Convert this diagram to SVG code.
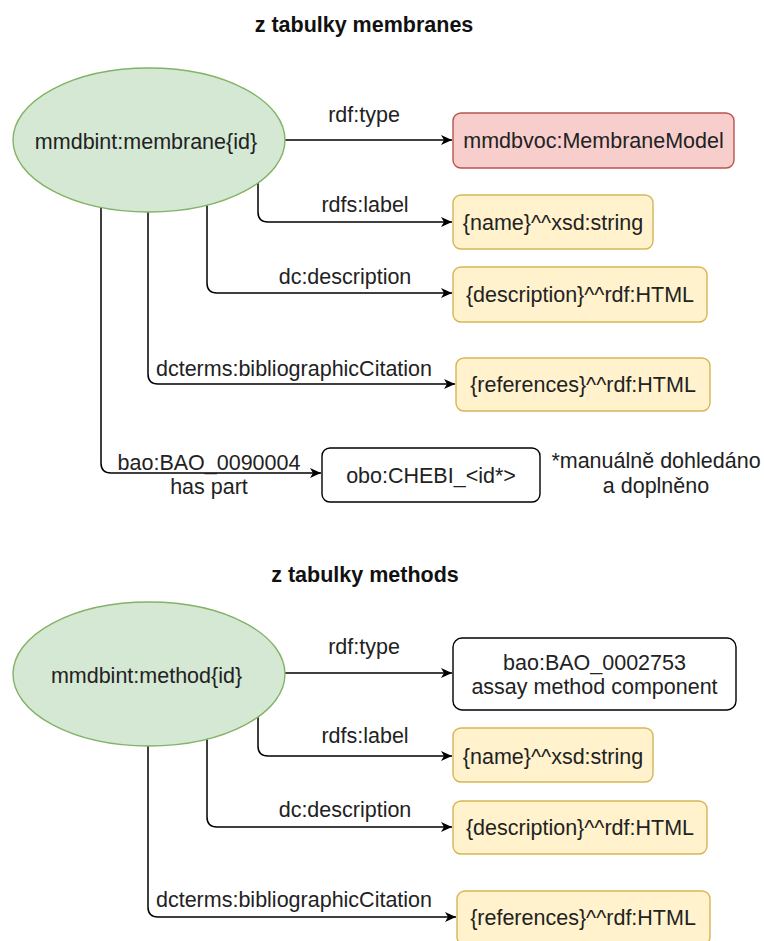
<svg xmlns="http://www.w3.org/2000/svg" width="764" height="941" viewBox="0 0 764 941">
  <style>
    text { font-family: "Liberation Sans", Arial, sans-serif; font-size: 21.5px; fill: #222; }
    .title { font-weight: bold; fill: #111; }
    .mid { text-anchor: middle; }
    .ent { fill: #d5e8d4; stroke: #82b366; stroke-width: 1.4; }
    .cls { fill: #f8cecc; stroke: #b85450; stroke-width: 1.4; }
    .lit { fill: #fff2cc; stroke: #d6b656; stroke-width: 1.4; }
    .res { fill: #ffffff; stroke: #000000; stroke-width: 1.4; }
    .edge { fill: none; stroke: #000; stroke-width: 1.5; marker-end: url(#arrow); }
  </style>
  <defs>
    <marker id="arrow" markerUnits="userSpaceOnUse" markerWidth="12" markerHeight="10" refX="11" refY="5" orient="auto">
      <path d="M0,0 L11,5 L0,10 L3,5 Z" fill="#000"/>
    </marker>
  </defs>

  <rect width="764" height="941" fill="#ffffff"/>

  <!-- section titles -->
  <text class="title mid" x="364" y="32">z tabulky membranes</text>
  <text class="title mid" x="365" y="582">z tabulky methods</text>

  <!-- connectors -->
  <g id="connectors">
    <!-- membrane -->
    <path class="edge" d="M285,140 H452"/>
    <path class="edge" d="M258,183 V212 Q258,222 268,222 H452"/>
    <path class="edge" d="M207,205 V283 Q207,293 217,293 H452"/>
    <path class="edge" d="M148,212 V374 Q148,384 158,384 H455"/>
    <path class="edge" d="M101,207 V463 Q101,473 111,473 H321"/>
    <!-- method -->
    <path class="edge" d="M285,673 H452"/>
    <path class="edge" d="M258,717 V746 Q258,756 268,756 H452"/>
    <path class="edge" d="M207,738 V817 Q207,827 217,827 H452"/>
    <path class="edge" d="M148,746 V907 Q148,917 158,917 H456"/>

    <!-- edge labels -->
    <text class="mid" x="364" y="122">rdf:type</text>
    <text class="mid" x="365" y="212">rdfs:label</text>
    <text class="mid" x="345" y="284">dc:description</text>
    <text class="mid" x="294" y="376">dcterms:bibliographicCitation</text>
    <text class="mid" x="209" y="470">bao:BAO_0090004</text>
    <text class="mid" x="209" y="494">has part</text>

    <text class="mid" x="364" y="654">rdf:type</text>
    <text class="mid" x="365" y="743">rdfs:label</text>
    <text class="mid" x="345" y="817">dc:description</text>
    <text class="mid" x="294" y="907">dcterms:bibliographicCitation</text>
  </g>

  <!-- membrane nodes -->
  <g id="membrane">
    <ellipse class="ent" cx="149" cy="140" rx="136" ry="72"/>
    <text class="mid" x="146" y="149">mmdbint:membrane{id}</text>
  </g>
  <g id="membrane-type">
    <rect class="cls" x="453" y="113" width="281" height="55" rx="8"/>
    <text class="mid" x="593.5" y="148">mmdbvoc:MembraneModel</text>
  </g>
  <g id="membrane-name">
    <rect class="lit" x="453" y="195" width="200" height="54" rx="8"/>
    <text class="mid" x="553" y="230">{name}^^xsd:string</text>
  </g>
  <g id="membrane-description">
    <rect class="lit" x="453" y="267" width="254" height="55" rx="8"/>
    <text class="mid" x="580" y="302">{description}^^rdf:HTML</text>
  </g>
  <g id="membrane-references">
    <rect class="lit" x="456" y="358" width="254" height="53" rx="8"/>
    <text class="mid" x="583" y="392">{references}^^rdf:HTML</text>
  </g>
  <g id="membrane-part">
    <rect class="res" x="322" y="448" width="218" height="54" rx="8"/>
    <text class="mid" x="431" y="483">obo:CHEBI_&lt;id*&gt;</text>
  </g>
  <g id="note">
    <text class="mid" x="656" y="468">*manuálně dohledáno</text>
    <text class="mid" x="656" y="493">a doplněno</text>
  </g>

  <!-- method nodes -->
  <g id="method">
    <ellipse class="ent" cx="149" cy="674" rx="136" ry="72"/>
    <text class="mid" x="146.5" y="683">mmdbint:method{id}</text>
  </g>
  <g id="method-type">
    <rect class="res" x="453" y="638" width="283" height="72" rx="9"/>
    <text class="mid" x="594.5" y="670">bao:BAO_0002753</text>
    <text class="mid" x="594.5" y="694">assay method component</text>
  </g>
  <g id="method-name">
    <rect class="lit" x="453" y="728" width="200" height="54" rx="8"/>
    <text class="mid" x="553" y="764">{name}^^xsd:string</text>
  </g>
  <g id="method-description">
    <rect class="lit" x="453" y="801" width="254" height="53" rx="8"/>
    <text class="mid" x="580" y="835">{description}^^rdf:HTML</text>
  </g>
  <g id="method-references">
    <rect class="lit" x="457" y="891" width="253" height="54" rx="8"/>
    <text class="mid" x="583" y="925">{references}^^rdf:HTML</text>
  </g>
</svg>
